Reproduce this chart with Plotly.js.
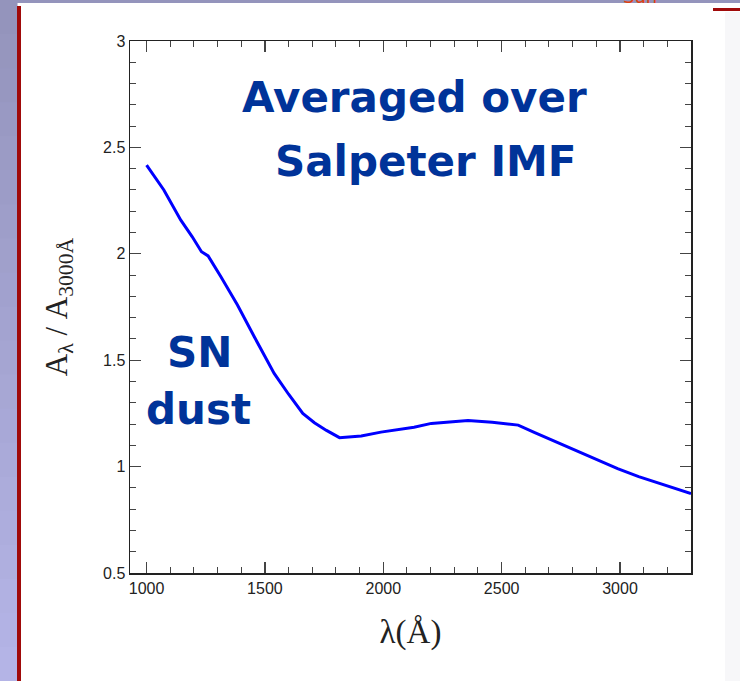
<!DOCTYPE html>
<html>
<head>
<meta charset="utf-8">
<script src="https://cdn.plot.ly/plotly-3.0.1.min.js"></script>
<style>
html,body{margin:0;padding:0;background:#ffffff;}
#chart{width:740px;height:681px;}
</style>
</head>
<body>
<div id="chart"></div>
<script>
// Data
const wavelength = [1000, 1073, 1144, 1193, 1232, 1260, 1314, 1384, 1455, 1539, 1600, 1660, 1709, 1760, 1815, 1907, 1990, 2062, 2130, 2203, 2280, 2358, 2460, 2570, 2640, 2712, 2810, 2909, 2990, 3079, 3180, 3300];
const extinction = [2.417, 2.30, 2.159, 2.08, 2.01, 1.99, 1.892, 1.759, 1.61, 1.438, 1.34, 1.25, 1.206, 1.17, 1.136, 1.144, 1.162, 1.175, 1.185, 1.203, 1.21, 1.217, 1.208, 1.195, 1.16, 1.125, 1.08, 1.031, 0.99, 0.953, 0.915, 0.873];
const xTickVals = [1000, 1500, 2000, 2500, 3000];
const yTickVals = [0.5, 1, 1.5, 2, 2.5, 3];
const yTickText = ["0.5", "1", "1.5", "2", "2.5", "3"];

const W = 740, H = 681;
const M = {l: 130, r: 49, t: 41, b: 108};
const pw = W - M.l - M.r, ph = H - M.t - M.b;
const px = v => (v - M.l) / pw;
const py = v => (H - M.b - v) / ph;

const shapes = [];
// slide decorations: left gradient strip
const nb = 20;
for (let i = 0; i < nb; i++) {
  const t = i / (nb - 1);
  const r = Math.round(0x94 + t * (0xb4 - 0x94));
  const g = Math.round(0x94 + t * (0xb4 - 0x94));
  const b = Math.round(0xbc + t * (0xe6 - 0xbc));
  shapes.push({type: 'rect', xref: 'paper', yref: 'paper', layer: 'below',
    x0: px(0), x1: px(17.5), y0: py(H * i / nb), y1: py(H * (i + 1) / nb + 1),
    fillcolor: `rgb(${r},${g},${b})`, line: {width: 0}});
}
// top strip
shapes.push({type: 'rect', xref: 'paper', yref: 'paper', layer: 'below',
  x0: px(0), x1: px(W), y0: py(0), y1: py(3), fillcolor: '#9494bc', line: {width: 0}});
// right light strip
shapes.push({type: 'rect', xref: 'paper', yref: 'paper', layer: 'below',
  x0: px(725), x1: px(W), y0: py(12), y1: py(H), fillcolor: '#f7f7f9', line: {width: 0}});
// red vertical rule
shapes.push({type: 'rect', xref: 'paper', yref: 'paper', layer: 'below',
  x0: px(17), x1: px(21), y0: py(6), y1: py(H), fillcolor: '#a00a0a', line: {width: 0}});
// red top-right rule
shapes.push({type: 'rect', xref: 'paper', yref: 'paper', layer: 'below',
  x0: px(713), x1: px(W), y0: py(8), y1: py(11), fillcolor: '#a00a0a', line: {width: 0}});

const trace = {
  x: wavelength, y: extinction, type: 'scatter', mode: 'lines',
  line: {color: '#0000ff', width: 3}, hoverinfo: 'skip', showlegend: false
};

const tickFont = {family: 'Liberation Sans, Arial, sans-serif', size: 16, color: '#222'};
const annFont = {family: 'Comic Sans MS, DejaVu Sans, sans-serif', size: 42, color: '#003399', weight: 'bold'};

const layout = {
  width: W, height: H,
  margin: M,
  paper_bgcolor: '#ffffff', plot_bgcolor: '#ffffff',
  showlegend: false,
  xaxis: {
    range: [930, 3300], showgrid: false, zeroline: false,
    showline: true, linecolor: '#222', linewidth: 1.5, mirror: 'ticks',
    ticks: 'inside', ticklen: 11, tickwidth: 1.2, tickcolor: '#444',
    tickvals: xTickVals, ticktext: xTickVals.map(String), tickfont: tickFont,
    minor: {dtick: 100, tick0: 1000, ticks: 'inside', ticklen: 6, tickwidth: 1, tickcolor: '#444', showgrid: false},
    title: {text: 'λ(Å)', font: {family: 'Liberation Serif, DejaVu Serif, serif', size: 33, color: '#222'}, standoff: 24}
  },
  yaxis: {
    range: [0.5, 3], showgrid: false, zeroline: false,
    showline: true, linecolor: '#222', linewidth: 1.5, mirror: 'ticks',
    ticks: 'inside', ticklen: 11, tickwidth: 1.2, tickcolor: '#444',
    tickvals: yTickVals, ticktext: yTickText, tickfont: tickFont,
    minor: {dtick: 0.1, tick0: 0.5, ticks: 'inside', ticklen: 6, tickwidth: 1, tickcolor: '#444', showgrid: false},
    title: {text: 'A<sub>λ</sub> / A<sub>3000Å</sub>', font: {family: 'Liberation Serif, DejaVu Serif, serif', size: 31, color: '#222'}, standoff: 26}
  },
  shapes: shapes,
  annotations: [
    {xref: 'paper', yref: 'paper', x: px(414), y: py(98), text: 'Averaged over', showarrow: false, font: annFont, xanchor: 'center', yanchor: 'middle'},
    {xref: 'paper', yref: 'paper', x: px(426), y: py(161), text: 'Salpeter IMF', showarrow: false, font: annFont, xanchor: 'center', yanchor: 'middle'},
    {xref: 'paper', yref: 'paper', x: px(199), y: py(352), text: 'SN', showarrow: false, font: annFont, xanchor: 'center', yanchor: 'middle'},
    {xref: 'paper', yref: 'paper', x: px(198), y: py(409), text: 'dust', showarrow: false, font: annFont, xanchor: 'center', yanchor: 'middle'},
    {xref: 'paper', yref: 'paper', x: px(640), y: py(-4), text: 'Sun', showarrow: false, font: {family: 'Comic Sans MS, DejaVu Sans, sans-serif', size: 18, color: '#e04010'}, xanchor: 'center', yanchor: 'middle'}
  ]
};

Plotly.newPlot('chart', [trace], layout, {displayModeBar: false, staticPlot: true});
</script>
</body>
</html>
